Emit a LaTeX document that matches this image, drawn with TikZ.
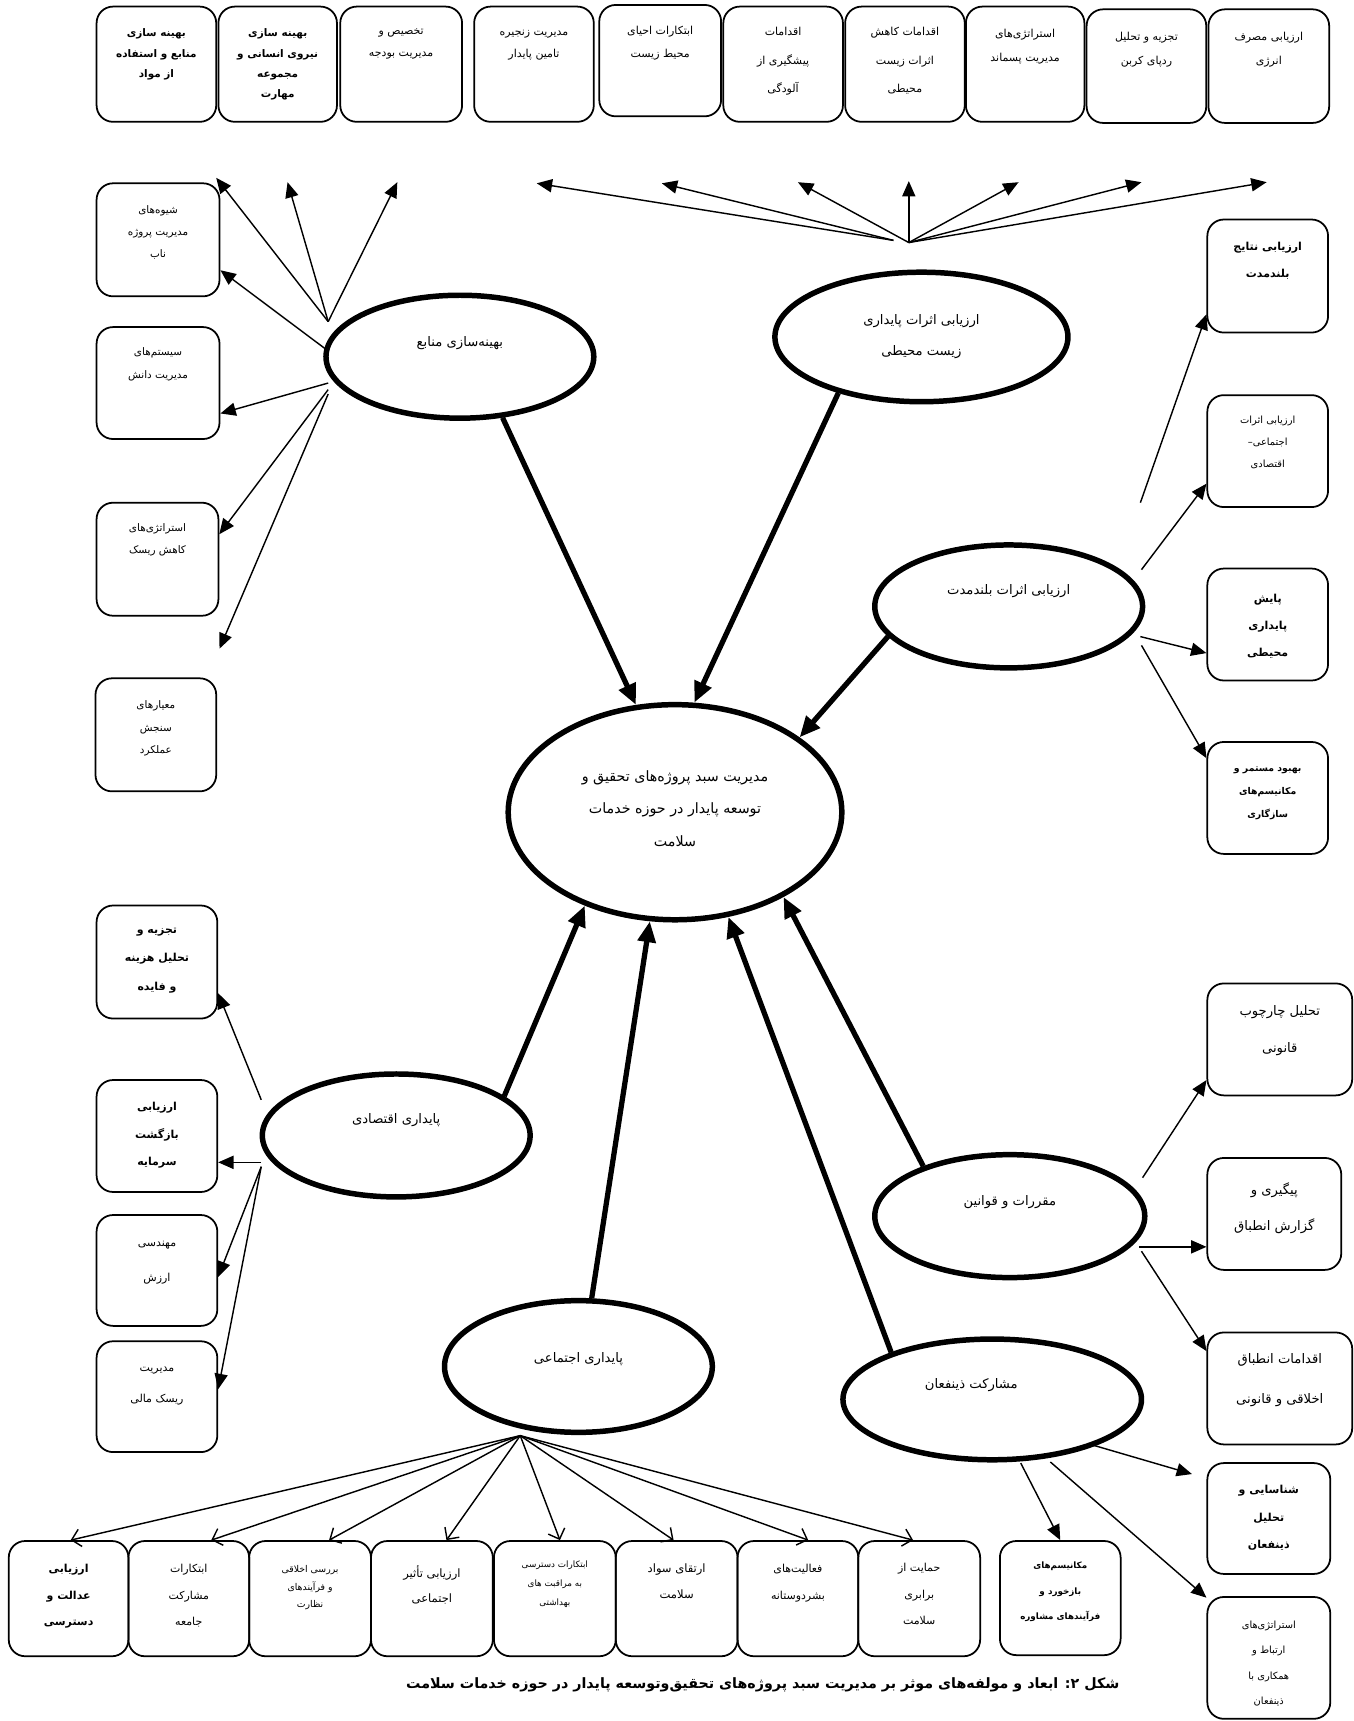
\documentclass[tikz,border=0pt]{standalone}
\usepackage{fontspec}
\newfontfamily\arabicfont[Script=Arabic]{DejaVu Sans}
\TeXXeTstate=1
\usetikzlibrary{shapes.geometric,arrows.meta}
\newcommand\RL[1]{\beginR #1\endR}
\newcommand\fsz[2]{\fontsize{#1}{#2}\selectfont}
\newcommand\bx[8]{%
  \node[box,minimum width=#4pt,minimum height=#5pt] (#1) at (#2,#3) {};
  \node[tx,font={\arabicfont#6}] (#1t) at ([yshift=-#7pt]#1.north) {#8};}
\newcommand\el[5]{\node[ell,minimum width=#4pt,minimum height=#5pt] (#1) at (#2,#3) {};}
\begin{document}
\begin{tikzpicture}[x=1pt,y=-1pt,
  box/.style={draw,line width=1.6pt,rounded corners=15pt,inner sep=0pt},
  tx/.style={anchor=north,align=center,inner sep=0pt},
  ell/.style={draw,ellipse,line width=5pt,inner sep=0pt},
  etx/.style={align=center,inner sep=0pt,font={\arabicfont\fsz{12}{28.5}}},
  thin/.style={line width=1.3pt,-{Triangle[length=14pt,width=12pt]}},
  thk/.style={line width=4.8pt,-{Triangle[length=19pt,width=16pt]}},
  opn/.style={line width=1.3pt,-{Straight Barb[length=8pt,width=16pt]}},
]
\useasboundingbox (0,0) rectangle (1233,1568);
\fill[white] (0,0) rectangle (1233,1568);
% top row
\bx{tb1}{142.5}{58.5}{109}{105}{\bfseries\fsz{9.5}{18.5}}{21}{\RL{بهینه سازی}\\\RL{منابع و استفاده}\\\RL{از مواد}}
\bx{tb2}{253}{58.5}{108}{105}{\bfseries\fsz{9.5}{18.5}}{21}{\RL{بهینه سازی}\\\RL{نیروی انسانی و}\\\RL{مجموعه}\\\RL{مهارت}}
\bx{tb3}{365.5}{58.5}{111}{105}{\fsz{10}{20}}{21}{\RL{تخصیص و}\\\RL{مدیریت بودجه}}
\bx{tb4}{486.5}{58.5}{109}{105}{\fsz{10}{20.5}}{22}{\RL{مدیریت زنجیره}\\\RL{تامین پایدار}}
\bx{tb5}{601.5}{55.25}{111}{101.5}{\fsz{10}{21}}{19.5}{\RL{ابتکارات احیای}\\\RL{محیط زیست}}
\bx{tb6}{713.5}{58.5}{109}{105}{\fsz{10}{26}}{19.5}{\RL{اقدامات}\\\RL{پیشگیری از}\\\RL{آلودگی}}
\bx{tb7}{824.5}{58.5}{109}{105}{\fsz{10}{26}}{19.5}{\RL{اقدامات کاهش}\\\RL{اثرات زیست}\\\RL{محیطی}}
\bx{tb8}{934}{58.5}{108}{105}{\fsz{10}{22}}{21}{\RL{استراتژی‌های}\\\RL{مدیریت پسماند}}
\bx{tb9}{1044.5}{60.25}{109}{103.5}{\fsz{10}{22.5}}{21}{\RL{تجزیه و تحلیل}\\\RL{ردپای کربن}}
\bx{tb10}{1156}{60.25}{110}{103.5}{\fsz{10}{22.5}}{21}{\RL{ارزیابی مصرف}\\\RL{انرژی}}
% left column A
\bx{ls1}{144}{218.5}{112}{103}{\fsz{9.5}{20}}{21}{\RL{شیوه‌های}\\\RL{مدیریت پروژه}\\\RL{ناب}}
\bx{ls2}{144}{349}{112}{102}{\fsz{9.5}{21}}{19.5}{\RL{سیستم‌های}\\\RL{مدیریت دانش}}
\bx{ls3}{143.5}{509.5}{111}{103}{\fsz{9.5}{20}}{19.5}{\RL{استراتژی‌های}\\\RL{کاهش ریسک}}
\bx{ls4}{142}{669.5}{110}{103}{\fsz{9.5}{20.5}}{21}{\RL{معیارهای}\\\RL{سنجش}\\\RL{عملکرد}}
% left column B
\bx{lb1}{143}{876.5}{110}{103}{\bfseries\fsz{10}{26}}{21}{\RL{تجزیه و}\\\RL{تحلیل هزینه}\\\RL{و فایده}}
\bx{lb2}{143}{1035}{110}{102}{\bfseries\fsz{10}{25}}{21}{\RL{ارزیابی}\\\RL{بازگشت}\\\RL{سرمایه}}
\bx{lb3}{143}{1157.5}{110}{101}{\fsz{10}{32}}{24}{\RL{مهندسی}\\\RL{ارزش}}
\bx{lb4}{143}{1272.5}{110}{101}{\fsz{10}{28}}{24}{\RL{مدیریت}\\\RL{ریسک مالی}}
% right column A
\bx{ra1}{1155}{251.5}{110}{103}{\bfseries\fsz{10}{25}}{21}{\RL{ارزیابی نتایج}\\\RL{بلندمدت}}
\bx{ra2}{1155}{411}{110}{102}{\fsz{9}{20}}{20}{\RL{ارزیابی اثرات}\\\RL{اجتماعی–}\\\RL{اقتصادی}}
\bx{ra3}{1155}{569}{110}{102}{\bfseries\fsz{10}{24.5}}{24}{\RL{پایش}\\\RL{پایداری}\\\RL{محیطی}}
\bx{ra4}{1155}{727}{110}{102}{\bfseries\fsz{8.5}{21}}{23.5}{\RL{بهبود مستمر و}\\\RL{مکانیسم‌های}\\\RL{سازگاری}}
% right column B
\bx{rb1}{1166}{947}{132}{102}{\fsz{12}{33}}{21}{\RL{تحلیل چارچوب}\\\RL{قانونی}}
\bx{rb2}{1161}{1106}{122}{102}{\fsz{12}{33}}{23}{\RL{پیگیری و}\\\RL{گزارش انطباق}}
\bx{rb3}{1166}{1265}{132}{102}{\fsz{12}{36}}{20}{\RL{اقدامات انطباق}\\\RL{اخلاقی و قانونی}}
% right column C
\bx{rc1}{1156}{1383.5}{112}{101}{\bfseries\fsz{10}{25}}{21}{\RL{شناسایی و}\\\RL{تحلیل}\\\RL{ذینفعان}}
\bx{rc2}{1156}{1510.5}{112}{111}{\fsz{9}{23}}{22.5}{\RL{استراتژی‌های}\\\RL{ارتباط و}\\\RL{همکاری با}\\\RL{ذینفعان}}
\bx{rc3}{966}{1456}{110}{104}{\bfseries\fsz{8}{23}}{20}{\RL{مکانیسم‌های}\\\RL{بازخورد و}\\\RL{فرآیندهای مشاوره}}
% bottom row
\bx{bb1}{62.5}{1456.5}{109}{105}{\bfseries\fsz{10}{24}}{22}{\RL{ارزیابی}\\\RL{عدالت و}\\\RL{دسترسی}}
\bx{bb2}{172}{1456.5}{110}{105}{\fsz{10}{24}}{22}{\RL{ابتکارات}\\\RL{مشارکت}\\\RL{جامعه}}
\bx{bb3}{282.5}{1456.5}{111}{105}{\fsz{8.5}{16}}{23}{\RL{بررسی اخلاقی}\\\RL{و فرآیندهای}\\\RL{نظارت}}
\bx{bb4}{393.5}{1456.5}{111}{105}{\fsz{10.5}{23}}{23}{\RL{ارزیابی تأثیر}\\\RL{اجتماعی}}
\bx{bb5}{505.5}{1456.5}{111}{105}{\fsz{8}{17}}{19}{\RL{ابتکارات دسترسی}\\\RL{به مراقبت های}\\\RL{بهداشتی}}
\bx{bb6}{616.5}{1456.5}{111}{105}{\fsz{10.5}{24}}{21}{\RL{ارتقای سواد}\\\RL{سلامت}}
\bx{bb7}{727}{1456.5}{110}{105}{\fsz{10}{24}}{22}{\RL{فعالیت‌های}\\\RL{بشردوستانه}}
\bx{bb8}{837.5}{1456.5}{111}{105}{\fsz{10}{24}}{21}{\RL{حمایت از}\\\RL{برابری}\\\RL{سلامت}}
% ellipses
\el{e1}{419}{325}{244}{112}
\el{e2}{839.5}{307}{267}{118}
\el{e3}{919}{552.5}{244}{112}
\el{c0}{615}{740}{304}{196}
\el{e4}{361}{1034.5}{244}{112}
\el{e5}{920}{1108}{246}{112}
\el{e6}{527}{1245}{244}{120}
\el{e7}{904}{1275}{272}{110}
\node[etx] (e1t) at (419,312.5) {\RL{بهینه‌سازی منابع}};
\node[etx,anchor=north] (e2t) at (839.5,286.5) {\RL{ارزیابی اثرات پایداری}\\\RL{زیست محیطی}};
\node[etx] (e3t) at (919,539) {\RL{ارزیابی اثرات بلندمدت}};
\node[etx,anchor=north,font={\arabicfont\fsz{13}{29.5}}] (c0t) at (615,702) {\RL{مدیریت سبد پروژه‌های تحقیق و}\\\RL{توسعه پایدار در حوزه خدمات}\\\RL{سلامت}};
\node[etx] (e4t) at (361,1020.5) {\RL{پایداری اقتصادی}};
\node[etx] (e5t) at (920,1095) {\RL{مقررات و قوانین}};
\node[etx] (e6t) at (527,1238) {\RL{پایداری اجتماعی}};
\node[etx] (e7t) at (885,1262) {\RL{مشارکت ذینفعان}};
% caption
\node[font={\arabicfont\bfseries\fsz{13}{16}},inner sep=0pt] (cap) at (695,1535) {\RL{شکل ۲\kern0pt: ابعاد و مولفه‌های موثر بر مدیریت سبد پروژه‌های تحقیق‌وتوسعه پایدار در حوزه خدمات سلامت}};
% thin arrows from e1 area
\coordinate (f1) at (299,293);
\coordinate (f1a) at (298,319);
\coordinate (f1b) at (299,349);
\coordinate (f1c) at (299,355);
\coordinate (f1d) at (299,359);
\coordinate (u1) at (197,162);
\coordinate (u2) at (262,166);
\coordinate (u3) at (362,166);
\coordinate (d1) at (200,591);
\draw[thin] (f1) -- (u1);
\draw[thin] (f1) -- (u2);
\draw[thin] (f1) -- (u3);
\draw[thin] (f1a) -- (ls1.-26);
\draw[thin] (f1b) -- (ls2.-26);
\draw[thin] (f1c) -- (ls3.22);
\draw[thin] (f1d) -- (d1);
% thin arrows from e2 area
\coordinate (g1) at (814,219);
\coordinate (g2) at (828,221);
\coordinate (t4) at (489,167);
\coordinate (t5) at (603,167);
\coordinate (t6) at (727,166);
\coordinate (t7) at (828,165);
\coordinate (t8) at (928,166);
\coordinate (t9) at (1040,166);
\coordinate (t10) at (1154,166);
\draw[thin] (g1) -- (t4);
\draw[thin] (g1) -- (t5);
\draw[thin] (g2) -- (t6);
\draw[thin] (g2) -- (t7);
\draw[thin] (g2) -- (t8);
\draw[thin] (g2) -- (t9);
\draw[thin] (g2) -- (t10);
% e3 area
\coordinate (h1) at (1039,458);
\coordinate (h2) at (1040,519);
\coordinate (h3) at (1039,580);
\coordinate (h4) at (1040,588);
\draw[thin] (h1) -- (ra1.212);
\draw[thin] (h2) -- (ra2.208);
\draw[thin] (h3) -- (ra3.205);
\draw[thin] (h4) -- (ra4.147);
% e4 area
\coordinate (k1) at (238,1002);
\coordinate (k2) at (238,1059);
\coordinate (k3) at (238,1063);
\draw[thin] (k1) -- (lb1.-27);
\draw[thin] (k2) -- (k2 -| lb2.east);
\draw[thin] (k3) -- (lb3.-6);
\draw[thin] (k3) -- (lb4.7);
% e5 area
\coordinate (m1) at (1041,1073);
\coordinate (m2) at (1038,1136);
\coordinate (m3) at (1040,1140);
\draw[thin] (m1) -- (rb1.209);
\draw[thin] (m2) -- (m2 -| rb2.west);
\draw[thin] (m3) -- (rb3.153);
% e7 area
\coordinate (n1) at (997,1317);
\coordinate (n1e) at (1086,1343);
\coordinate (n2) at (930,1333);
\coordinate (n3) at (957,1332);
\draw[thin] (n1) -- (n1e);
\draw[thin] (n2) -- (rc3.north);
\draw[thin] (n3) -- (rc2.136);
% e6 fan (open heads)
\coordinate (p0) at (474,1308);
\foreach \b/\a in {bb1/88,bb2/69,bb3/72,bb4/76,bb5/85,bb6/93,bb7/80,bb8/96}
  \draw[opn] (p0) -- (\b.\a);
% thick arrows to centre
\draw[thk] (e1.-55) -- (c0.110);
\draw[thk] (e2.-146) -- (c0.80);
\draw[thk] (e3.-166) -- (c0.31);
\draw[thk] (e4.20) -- (c0.-134);
\draw[thk] (e6.79) -- (c0.-103);
\draw[thk] (e7.155) -- (c0.-63);
\draw[thk] (e5.150) -- (c0.-38);
\end{tikzpicture}
\end{document}
